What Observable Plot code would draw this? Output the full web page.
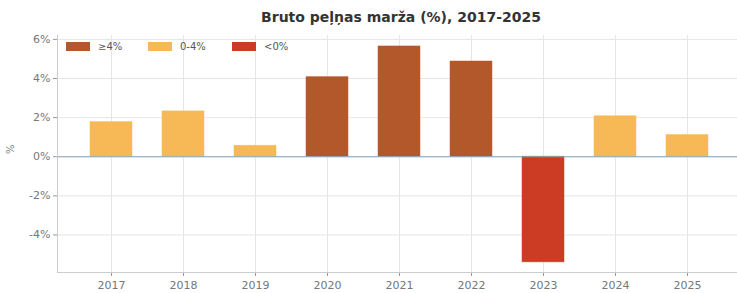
<!DOCTYPE html>
<html>
<head>
<meta charset="utf-8">
<script src="https://cdn.jsdelivr.net/npm/d3@7"></script>
<script src="https://cdn.jsdelivr.net/npm/@observablehq/plot@0.6"></script>
<style>
  body { margin: 0; background: #fff; font-family: "DejaVu Sans", sans-serif; }
  #wrap { position: relative; width: 737px; height: 293px; overflow: hidden; }
  #title { position: absolute; left: 61px; width: 680px; top: 9px; text-align: center; font-weight: bold; font-size: 14px; color: #333; }
  #legend { position: absolute; top: 0; left: 0; font-size: 10px; color: #555; }
  .item { position: absolute; top: 41px; display: flex; align-items: center; white-space: nowrap; }
  .sw { width: 24px; height: 9px; margin-right: 8px; }
  #chart { position: absolute; left: 0; top: 28px; }
  #chart svg { max-width: none !important; }
</style>
</head>
<body>
<div id="wrap">
  <div id="title">Bruto peļņas marža (%), 2017-2025</div>
  <div id="chart"></div>
  <div id="legend"></div>
</div>
<script>
const years = ["2017","2018","2019","2020","2021","2022","2023","2024","2025"];
const margins = [1.77, 2.32, 0.56, 4.07, 5.64, 4.87, -5.4, 2.07, 1.11];
const groups = ["≥4%", "0-4%", "<0%"];
const groupColors = ["#b2582b", "#f6b955", "#cc3c25"];
const yTicks = [-4, -2, 0, 2, 4, 6];

const groupOf = v => v >= 4 ? groups[0] : v >= 0 ? groups[1] : groups[2];
const data = years.map((y, i) => ({year: y, value: margins[i], group: groupOf(margins[i])}));

const plot = Plot.plot({
  width: 741,
  height: 265,
  marginLeft: 57,
  marginRight: 0,
  marginTop: 7,
  marginBottom: 21,
  style: {fontFamily: "DejaVu Sans, sans-serif", fontSize: "11px", color: "#777", background: "transparent", maxWidth: "none"},
  x: {domain: years, paddingInner: 0.42, paddingOuter: 0.44, label: null},
  y: {domain: [-5.92, 6.2], label: null},
  color: {domain: groups, range: groupColors},
  marks: [
    Plot.gridY(yTicks, {stroke: "#e6e6e6", strokeOpacity: 1}),
    Plot.gridX(years, {stroke: "#e6e6e6", strokeOpacity: 1}),
    Plot.barY(data, {x: "year", y: "value", fill: "group", stroke: "group", strokeOpacity: 0.6, strokeWidth: 0.8}),
    Plot.ruleY([0], {stroke: "#8aa3b8", strokeWidth: 1.2}),
    Plot.axisY(yTicks, {tickFormat: d => d + "%", tickSize: 4, tickPadding: 3, stroke: "#999", fill: "#777"}),
    Plot.axisX(years, {tickSize: 4, tickPadding: 5, stroke: "#999", fill: "#777"}),
    Plot.frame({anchor: "left", stroke: "#ccc"}),
    Plot.frame({anchor: "bottom", stroke: "#ccc"}),
    Plot.text(["%"], {frameAnchor: "left", dx: -47, rotate: -90, fill: "#777", fontSize: 10})
  ]
});
document.getElementById("chart").appendChild(plot);

const legend = document.getElementById("legend");
const lefts = [66, 148, 232];
groups.forEach((g, i) => {
  const it = document.createElement("div");
  it.className = "item";
  it.style.left = lefts[i] + "px";
  it.innerHTML = `<span class="sw" style="background:${groupColors[i]}"></span><span>${g}</span>`;
  legend.appendChild(it);
});
</script>
</body>
</html>
